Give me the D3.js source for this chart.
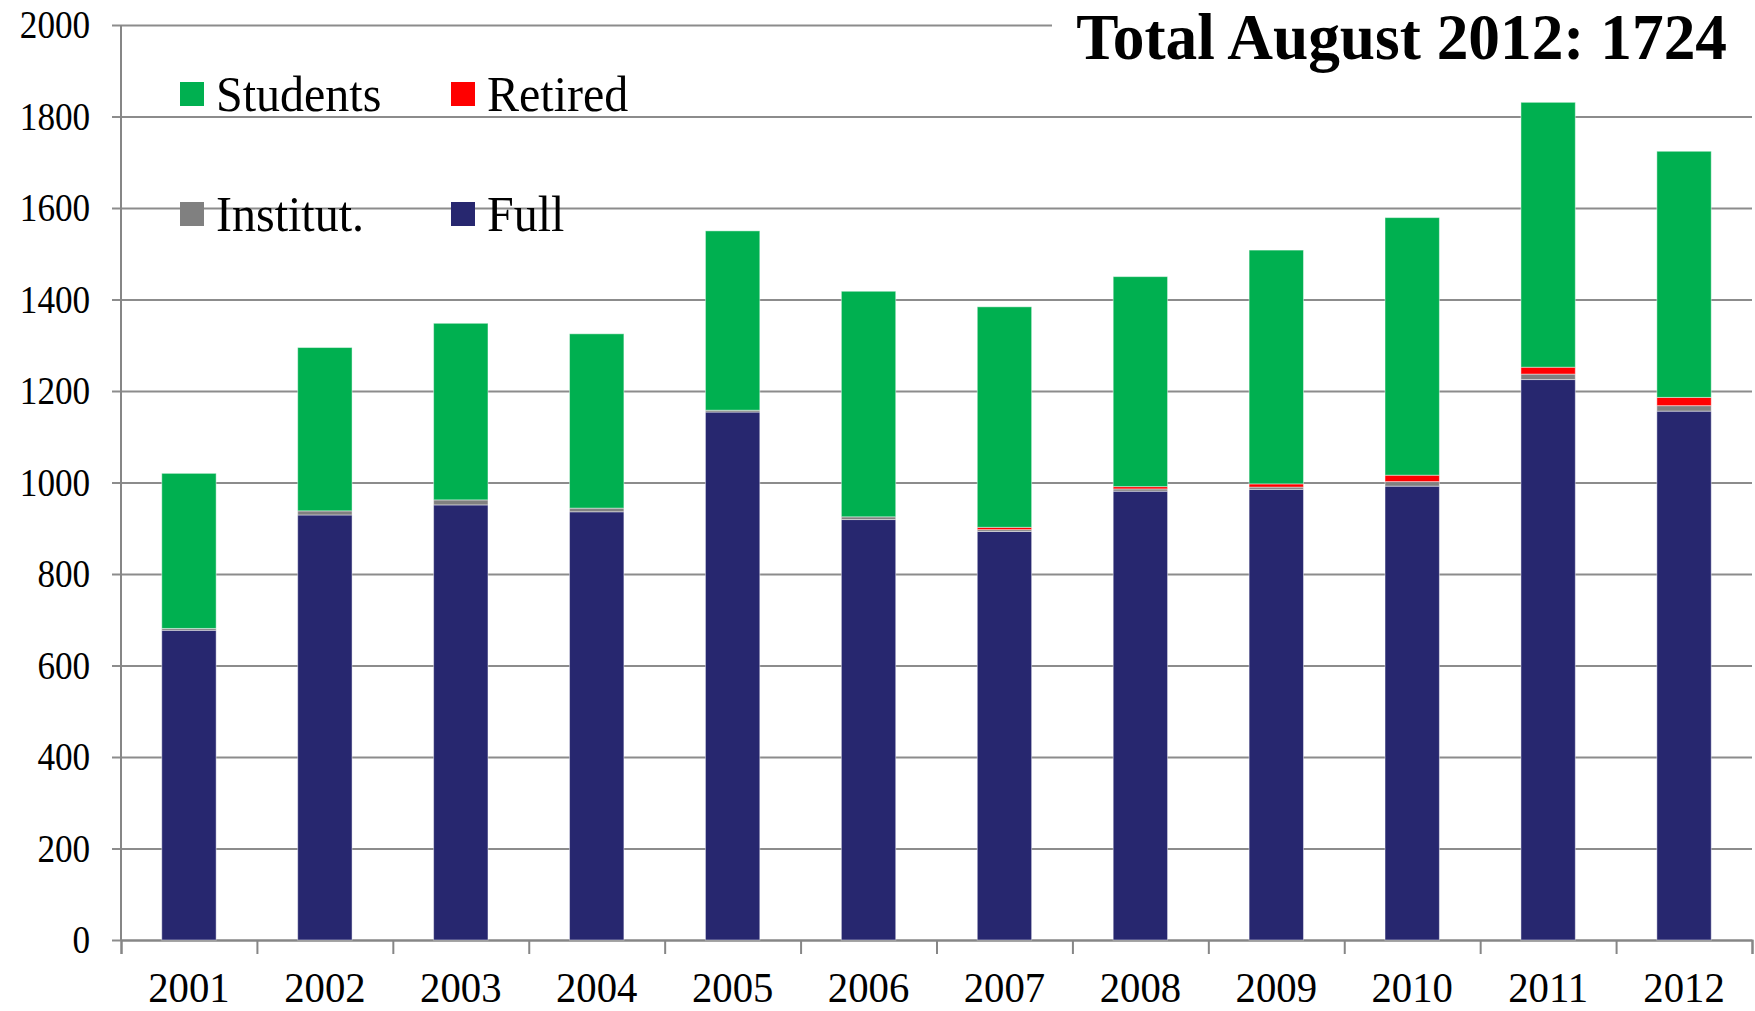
<!DOCTYPE html>
<html>
<head>
<meta charset="utf-8">
<script src="https://cdn.jsdelivr.net/npm/d3@7"></script>
<style>
    html, body { margin: 0; padding: 0; background: #fff; }
    svg { display: block; }
    text { font-family: 'Liberation Serif', 'Times New Roman', serif; fill: #000; }
</style>
</head>
<body>
<div id="chart"></div>
<script>
    // data
    const years = ['2001', '2002', '2003', '2004', '2005', '2006', '2007', '2008', '2009', '2010', '2011', '2012'];
    const full = [677, 929, 951, 936, 1154, 919, 893, 981, 985, 992, 1225, 1156];
    const institut = [4, 9, 11, 8, 4, 6, 4, 5, 5, 10, 12, 12];
    const retired = [0, 0, 0, 0, 0, 0, 5, 5, 7, 14, 15, 18];
    const students = [339, 357, 386, 381, 392, 493, 482, 459, 511, 563, 579, 538];
    const yTicks = [0, 200, 400, 600, 800, 1000, 1200, 1400, 1600, 1800, 2000];
    const seriesNames = ['Full', 'Institut.', 'Retired', 'Students'];
    const legendRows = [['Students', 'Retired'], ['Institut.', 'Full']];
    const title = 'Total August 2012: 1724';

    const colors = {
        'Full': '#27276f',
        'Institut.': '#808080',
        'Retired': '#ff0000',
        'Students': '#00b050'
    };

    const WIDTH = 1755;
    const HEIGHT = 1011;
    const FONT = "'Liberation Serif', 'Times New Roman', serif";

    function getMargins() {
        return {
            top: 25,
            bottom: 71,
            left: 121,
            right: 3
        };
    }

    function layout() {
        const svg = d3.select('#chart')
            .append('svg')
            .attr('width', WIDTH)
            .attr('height', HEIGHT);
        const margins = getMargins();
        const g = svg.append('g')
            .attr('transform', `translate(${margins.left},${margins.top})`);
        return { svg, g };
    }

    function addYAxis(chart) {
        const m = getMargins();
        const w = WIDTH - m.left - m.right;
        const h = HEIGHT - m.top - m.bottom;

        const scale = d3.scaleLinear()
            .domain([0, 2000])
            .range([h, 0]);

        //grid lines (tick marks stick out 9px to the left)
        const gridLines = chart.g.append('g')
            .attr('transform', 'translate(-9,0)')
            .call(d3.axisLeft(scale).tickValues(yTicks).tickSize(-(w + 9)).tickFormat(''));
        gridLines.select('.domain').remove();
        gridLines.selectAll('line')
            .attr('stroke', '#8c8c8c')
            .attr('stroke-width', 2);

        //labels
        const g = chart.g.append('g')
            .call(d3.axisLeft(scale).tickValues(yTicks).tickFormat(d3.format('d')).tickSize(0).tickPadding(35))
            .attr('font-family', FONT);
        g.select('.domain').remove();
        g.selectAll('text')
            .attr('font-size', 40)
            .attr('transform', 'scale(0.88,1)');

        //axis line
        chart.g.append('line')
            .attr('x1', 0).attr('x2', 0)
            .attr('y1', 0).attr('y2', h)
            .attr('stroke', '#868686')
            .attr('stroke-width', 2);

        return { scale, gridLines, g, h, w };
    }

    function addXAxis(chart) {
        const { w, h } = chart.y;

        const scale = d3.scaleBand()
            .domain(years)
            .range([0, w])
            .paddingInner(0.6)
            .paddingOuter(0.3);

        //category boundaries for the tick marks
        const edges = d3.scaleLinear()
            .domain([0, years.length])
            .range([0, w]);
        const ticks = chart.g.append('g')
            .attr('transform', `translate(0,${h})`)
            .call(d3.axisBottom(edges).tickValues(d3.range(years.length + 1)).tickSize(14).tickFormat(''));
        ticks.selectAll('line, path')
            .attr('stroke', '#868686')
            .attr('stroke-width', 2);

        //labels
        const g = chart.g.append('g')
            .attr('transform', `translate(0,${h})`)
            .call(d3.axisBottom(scale).tickSize(0).tickPadding(32))
            .attr('font-family', FONT);
        g.select('.domain').remove();
        g.selectAll('text')
            .attr('font-size', 42)
            .attr('transform', 'scale(0.97,1)');

        return { scale, ticks, g };
    }

    function drawBars(chart) {
        const rows = years.map((year, i) => ({
            year,
            'Full': full[i],
            'Institut.': institut[i],
            'Retired': retired[i],
            'Students': students[i]
        }));
        const stacked = d3.stack().keys(seriesNames)(rows);

        const layers = chart.g.append('g')
            .selectAll('g')
            .data(stacked)
            .join('g')
            .attr('fill', d => colors[d.key]);

        layers.selectAll('rect')
            .data(d => d.filter(s => s[1] > s[0]))
            .join('rect')
            .attr('x', d => chart.x.scale(d.data.year))
            .attr('width', chart.x.scale.bandwidth())
            .attr('y', d => chart.y.scale(d[1]))
            .attr('height', d => chart.y.scale(d[0]) - chart.y.scale(d[1]))
            .attr('stroke', 'rgba(255,255,255,0.45)')
            .attr('stroke-width', 1);

        return { stacked, layers };
    }

    function addTitle(chart) {
        //white box hides the top grid line behind the title
        chart.svg.append('rect')
            .attr('x', 1052)
            .attr('y', 0)
            .attr('width', WIDTH - 1052)
            .attr('height', 70)
            .attr('fill', '#fff');

        return chart.svg.append('text')
            .attr('transform', 'translate(1727,59) scale(0.96,1)')
            .attr('text-anchor', 'end')
            .attr('font-size', 66)
            .attr('font-weight', 'bold')
            .text(title);
    }

    function addLegend(chart) {
        const g = chart.svg.append('g').classed('legend', true);
        const colX = [180, 451];
        const rowY = [82, 202];

        legendRows.forEach((row, r) => {
            row.forEach((name, c) => {
                const item = g.append('g')
                    .attr('transform', `translate(${colX[c]},${rowY[r]})`);
                item.append('rect')
                    .attr('width', 24)
                    .attr('height', 24)
                    .attr('fill', colors[name]);
                item.append('text')
                    .attr('transform', 'translate(36,29) scale(0.96,1)')
                    .attr('font-size', 50)
                    .text(name);
            });
        });

        return g;
    }

    const chart = {};
    Object.assign(chart, layout());
    chart.y = addYAxis(chart);
    chart.x = addXAxis(chart);
    chart.bars = drawBars(chart);
    chart.title = addTitle(chart);
    chart.legend = addLegend(chart);
</script>
</body>
</html>
